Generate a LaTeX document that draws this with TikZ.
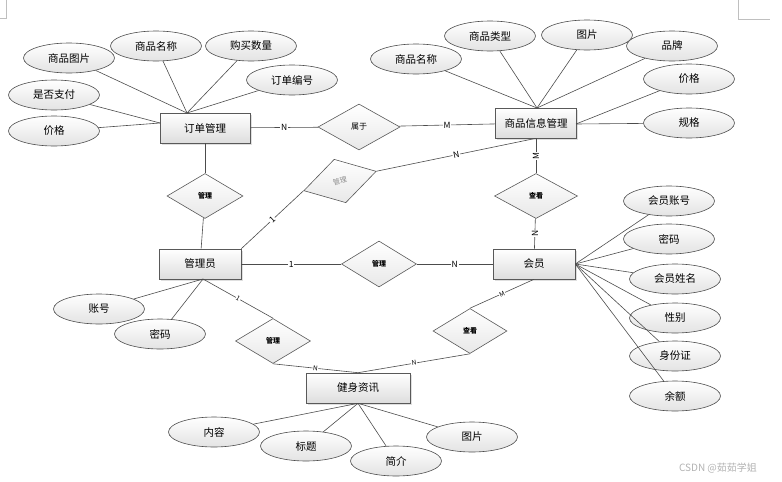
\documentclass[tikz,border=0pt]{standalone}
\usepackage{fontspec}
\setmainfont{Noto Sans CJK SC}
\usetikzlibrary{shapes.geometric,shadows}

\begin{document}
\begin{tikzpicture}[x=1pt,y=-1pt,
    line width=0.6pt,
    ent/.style={draw=black!65,rectangle,minimum height=30pt,top color=white,bottom color=black!13,
        drop shadow={shadow xshift=1.5pt,shadow yshift=-1.5pt,opacity=0.25},font=\fontsize{10.5}{12}\selectfont},
    attr/.style={draw=black!70,ellipse,minimum width=91pt,minimum height=30pt,top color=white,bottom color=black!11,
        font=\fontsize{10.5}{12}\selectfont},
    rel/.style={draw=black!65,diamond,minimum width=75pt,minimum height=45pt,inner sep=0pt,top color=white,
        bottom color=black!9,font=\fontsize{7}{8}\selectfont\bfseries},
    lbl/.style={fill=white,inner sep=0.8pt,font=\fontsize{8.5}{9}\selectfont},
    tiny/.style={fill=white,inner sep=0.5pt,font=\fontsize{6.5}{7}\selectfont},
    link/.style={draw=black!70}]
    \useasboundingbox (0,0) rectangle (782,482);
    % page corners
    \draw[black!25,line width=0.5pt] (0,18) -- (6,18) -- (6,0);
    \draw[black!25,line width=0.5pt] (738,0) -- (738,19) -- (770,19);

    % entities
    \node[ent,minimum width=90pt] (ord) at (205,128) {订单管理};
    \node[ent,minimum width=81pt] (goods) at (536,123) {商品信息管理};
    \node[ent,minimum width=82pt] (admin) at (200,264) {管理员};
    \node[ent,minimum width=82pt] (member) at (534,264) {会员};
    \node[ent,minimum width=104pt] (news) at (358,388) {健身资讯};

    % relations
    \node[rel,minimum width=82pt,minimum height=46pt,font=\fontsize{8}{9}\selectfont] (r1) at (359,127) {属于};
    \node[rel,minimum width=76pt] (r2) at (205,196) {管理};
    \node[rel,rotate=15,text=black!45,font=\fontsize{7}{8}\selectfont] (r3) at (340,181) {管理};
    \node[rel,minimum width=83pt] (r4) at (536,196) {查看};
    \node[rel,minimum height=46pt] (r5) at (379,264) {管理};
    \node[rel,minimum width=74pt] (r6) at (470,331) {查看};
    \node[rel] (r7) at (273,341) {管理};

    % attributes of 订单管理
    \node[attr] (o1) at (69,58) {商品图片};
    \node[attr] (o2) at (156,46) {商品名称};
    \node[attr] (o3) at (251,46) {购买数量};
    \node[attr] (o4) at (292,80) {订单编号};
    \node[attr] (o5) at (54,95) {是否支付};
    \node[attr] (o6) at (54,131) {价格};
    \coordinate (ot) at (187,113);
    \coordinate (ol) at (160,123);
    \foreach \i in {1,...,4} \draw[link] (o\i) -- (ot);
    \draw[link] (o5) -- (ol);
    \draw[link] (o6) -- (ol);

    % attributes of 商品信息管理
    \node[attr] (g1) at (416,59) {商品名称};
    \node[attr] (g2) at (490,36) {商品类型};
    \node[attr] (g3) at (587,35) {图片};
    \node[attr] (g4) at (672,46) {品牌};
    \node[attr] (g5) at (689,79) {价格};
    \node[attr] (g6) at (689,123) {规格};
    \coordinate (gt) at (537,108);
    \coordinate (gr) at (576,124);
    \foreach \i in {1,...,4} \draw[link] (g\i) -- (gt);
    \draw[link] (g5) -- (gr);
    \draw[link] (g6) -- (gr);

    % attributes of 会员
    \node[attr] (m1) at (669,201) {会员账号};
    \node[attr] (m2) at (669,239) {密码};
    \node[attr] (m3) at (675,279) {会员姓名};
    \node[attr] (m4) at (675,318) {性别};
    \node[attr] (m5) at (675,356) {身份证};
    \node[attr] (m6) at (675,396) {余额};
    \foreach \i in {1,...,6} \draw[link] (m\i) -- (member.east);

    % attributes of 管理员
    \node[attr] (a1) at (99,309) {账号};
    \node[attr] (a2) at (160,334) {密码};
    \coordinate (ab) at (203,279);
    \draw[link] (a1) -- (ab);
    \draw[link] (a2) -- (ab);

    % attributes of 健身资讯
    \node[attr] (n1) at (214,432) {内容};
    \node[attr] (n2) at (306,446) {标题};
    \node[attr] (n3) at (396,461) {简介};
    \node[attr] (n4) at (472,437) {图片};
    \foreach \i in {1,...,4} \draw[link] (n\i) -- (news.south);

    % relationships
    \draw[link] (ord) -- node[lbl]{N} (r1);
    \draw[link] (r1) -- node[lbl]{M} (goods);
    \draw[link] (ord) -- (r2);
    \draw[link] (r2) -- (admin);
    \draw[link] (admin.north east) -- node[lbl,sloped]{1} (r3.west);
    \draw[link] (r3.east) -- node[lbl,sloped]{N} (goods.south);
    \draw[link] (goods) -- node[lbl,rotate=90]{M} (r4);
    \draw[link] (r4) -- node[lbl,rotate=90]{N} (member);
    \draw[link] (admin) -- node[lbl]{1} (r5);
    \draw[link] (r5) -- node[lbl]{N} (member);
    \draw[link] (member.south) -- node[tiny,sloped]{M} (r6.north);
    \draw[link] (r6.south) -- node[tiny,sloped]{N} (news.north);
    \draw[link] (ab) -- node[tiny,sloped]{1} (r7.north);
    \draw[link] (r7.south) -- node[tiny,sloped]{N} (news.north);

    \node[text=black!30,font=\fontsize{10}{12}\selectfont] (mark) at (718,468) {CSDN @茹茹学姐};
\end{tikzpicture}
\end{document}
